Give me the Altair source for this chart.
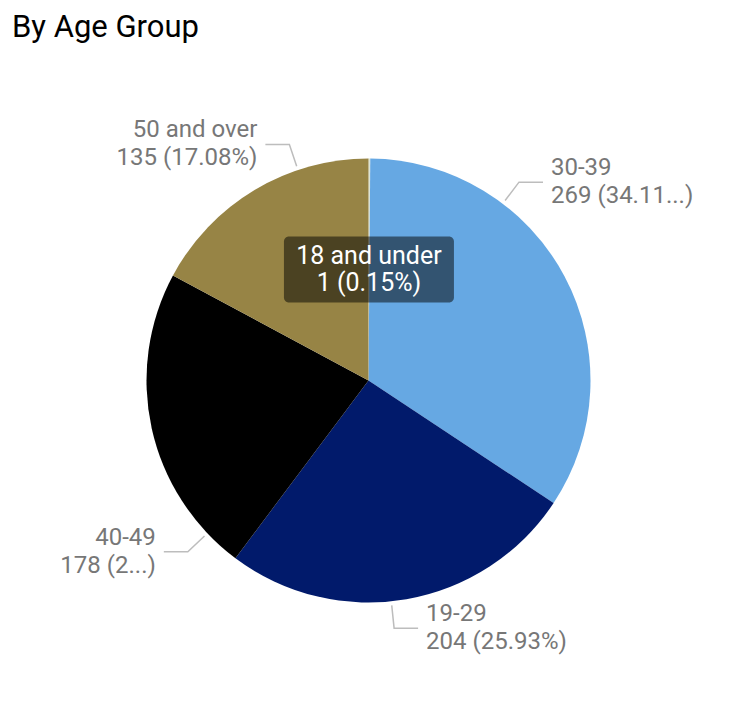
import math
import altair as alt
import pandas as pd

# ---- data ----
categories = ["18 and under", "30-39", "19-29", "40-49", "50 and over"]
counts = [1, 269, 204, 178, 135]
pct_text = ["0.15%", "34.11...", "25.93%", "2...", "17.08%"]
colors = ["#DCE3D4", "#66A8E3", "#011A6B", "#000000", "#978445"]
outside_label = [False, True, True, True, True]
tooltip_category = "18 and under"

# ---- layout / style ----
W, H = 721, 655
R = 222
FONT = "Roboto"
LABEL_COLOR = "#777777"
LEADER_COLOR = "#BDBDBD"
PUSH = 0.6  # labels are pulled toward the vertical axis like Power BI does
LABEL_LH = 28
TIP_LH = 27

total = sum(counts)
slices, leaders, labels, tips = [], [], [], []
start = 0.0
for i, (cat, v, pct, show) in enumerate(zip(categories, counts, pct_text, outside_label)):
    slices.append({"idx": i, "category": cat, "count": v})
    mid = (start + v / 2) / total * 360.0
    start += v
    text = f"{cat}\n{v} ({pct})"
    if cat == tooltip_category:
        a = math.radians(mid)
        cx, cy = 0.5 * R * math.sin(a), 0.5 * R * math.cos(a)
        tips.append({"tx": cx, "ty": cy, "x1": cx - 85, "x2": cx + 85,
                     "y1": cy - 33, "y2": cy + 33, "text": text})
    if not show:
        continue
    pole = 0 if mid < 90 else (180 if mid < 270 else 360)
    ang = math.radians(pole + PUSH * (mid - pole))
    side = "right" if math.sin(ang) >= 0 else "left"
    sgn = 1 if side == "right" else -1
    ex, ey = (R + 4) * math.sin(ang), (R + 4) * math.cos(ang)
    bx, by = (R + 27) * math.sin(ang), (R + 27) * math.cos(ang)
    hx = bx + sgn * 24
    for k, (px, py) in enumerate([(ex, ey), (bx, by), (hx, by)]):
        leaders.append({"category": cat, "k": k, "x": px, "y": py})
    labels.append({"category": cat, "side": side, "x": hx + sgn * 8, "y": by, "text": text})

df_slices = pd.DataFrame(slices)
df_leaders = pd.DataFrame(leaders)
df_labels = pd.DataFrame(labels)
df_tips = pd.DataFrame(tips)

xs = alt.Scale(domain=[-W / 2, W / 2], nice=False, zero=False)
ys = alt.Scale(domain=[-H / 2, H / 2], nice=False, zero=False)

pie = alt.Chart(df_slices).mark_arc(outerRadius=R).encode(
    theta=alt.Theta("count:Q", stack=True),
    color=alt.Color("category:N", scale=alt.Scale(domain=categories, range=colors), legend=None),
    order=alt.Order("idx:Q"),
)

leader = alt.Chart(df_leaders).mark_line(color=LEADER_COLOR, strokeWidth=1.5).encode(
    x=alt.X("x:Q", scale=xs, axis=None),
    y=alt.Y("y:Q", scale=ys, axis=None),
    detail="category:N",
    order="k:Q",
)

def label_layer(side, align):
    return alt.Chart(df_labels).transform_filter(alt.datum.side == side).mark_text(
        align=align, baseline="middle", font=FONT, fontSize=24, lineHeight=LABEL_LH,
        dy=-LABEL_LH / 2, color=LABEL_COLOR, lineBreak="\n",
    ).encode(
        x=alt.X("x:Q", scale=xs, axis=None),
        y=alt.Y("y:Q", scale=ys, axis=None),
        text="text:N",
    )

tip_box = alt.Chart(df_tips).mark_rect(color="black", opacity=0.5, cornerRadius=5).encode(
    x=alt.X("x1:Q", scale=xs, axis=None), x2="x2:Q",
    y=alt.Y("y1:Q", scale=ys, axis=None), y2="y2:Q",
)
tip_text = alt.Chart(df_tips).mark_text(
    align="center", baseline="middle", font=FONT, fontSize=25, lineHeight=TIP_LH,
    dy=-TIP_LH / 2, color="white", lineBreak="\n",
).encode(
    x=alt.X("tx:Q", scale=xs, axis=None),
    y=alt.Y("ty:Q", scale=ys, axis=None),
    text="text:N",
)

chart = alt.layer(
    pie, leader, label_layer("right", "left"), label_layer("left", "right"), tip_box, tip_text
).properties(
    width=W, height=H,
    background="white",
    padding={"top": 4, "left": 0, "right": 0, "bottom": 0},
    title=alt.Title("By Age Group", anchor="start", font=FONT, fontSize=31,
                    fontWeight="normal", color="black", dx=4, offset=9),
).configure_view(strokeWidth=0, stroke="transparent")

chart.save("out.html", embed_options={"renderer": "svg", "actions": False})
